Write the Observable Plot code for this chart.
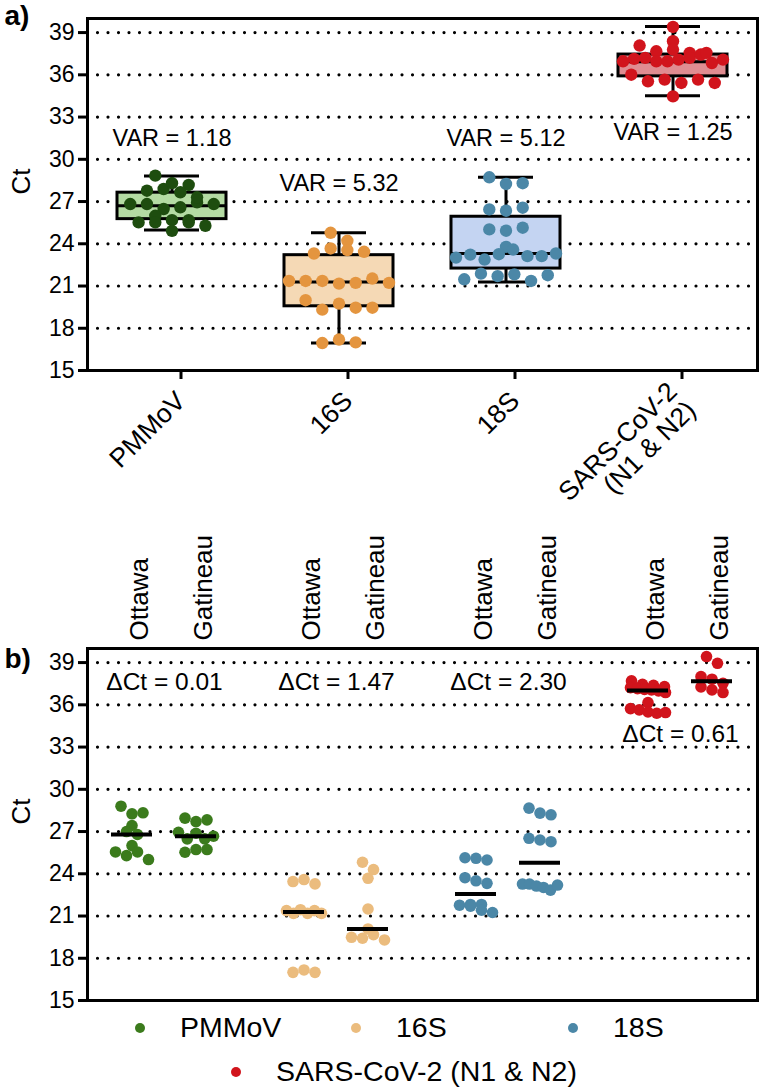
<!DOCTYPE html>
<html>
<head>
<meta charset="utf-8">
<script src="https://cdn.jsdelivr.net/npm/d3@7"></script>
<script src="https://cdn.jsdelivr.net/npm/@observablehq/plot@0.6"></script>
<style>
  html, body { margin: 0; padding: 0; background: #fff; }
  #root { position: relative; width: 760px; height: 1092px; font-family: "Liberation Sans", Arial, sans-serif; color: #000; overflow: hidden; }
  .layer { position: absolute; left: 0; }
  .layer svg { display: block; overflow: visible; }
  .lg { position: absolute; font-size: 28.5px; line-height: 1; white-space: nowrap; }
  .lg .sw { position: absolute; width: 10px; height: 10px; border-radius: 50%; }
</style>
</head>
<body>
<div id="root"></div>
<script>
// ---------- data ----------
const targets = ["PMMoV", "16S", "18S", "SARS-CoV-2 (N1 & N2)"];
const targetTickLabels = ["PMMoV", "16S", "18S", "SARS-CoV-2\n(N1 & N2)"];
const cities = ["Ottawa", "Gatineau"];
const yTicks = [15, 18, 21, 24, 27, 30, 33, 36, 39];

// panel a: all samples (Ct)
const pmmovAll = [28.84, 27.77, 27.89, 28.30, 28.18, 27.66, 26.82, 26.82, 26.47, 26.59, 26.94, 27.30, 26.82, 25.99, 25.52, 25.68, 25.52, 25.68, 24.92, 25.52, 25.28];
const s16All = [24.78, 24.21, 23.31, 23.67, 23.55, 23.43, 21.36, 21.36, 21.36, 21.17, 21.22, 21.53, 21.22, 19.99, 19.32, 19.75, 19.46, 19.46, 16.95, 17.20, 17.00];
const s18All = [28.72, 28.25, 28.30, 26.44, 26.35, 26.56, 25.02, 24.93, 25.14, 23.02, 23.23, 23.78, 22.88, 23.26, 23.59, 23.12, 23.12, 23.31, 21.48, 21.88, 21.70, 21.83, 21.36, 21.77];
const sarsAll = [39.40, 38.39, 38.08, 37.67, 37.79, 37.56, 36.96, 37.13, 37.20, 36.96, 36.96, 37.08, 37.20, 37.44, 36.84, 37.08, 37.56, 36.01, 35.54, 35.66, 35.42, 35.66, 35.42, 34.47];

// panel a: box statistics (min, Q1, median, Q3, max)
const boxMin = [24.97, 16.95, 21.29, 34.52];
const boxQ1 = [25.75, 19.56, 22.24, 35.89];
const boxMedian = [26.70, 21.29, 23.31, 36.93];
const boxQ3 = [27.63, 23.19, 25.92, 37.44];
const boxMax = [28.82, 24.78, 28.72, 39.43];

const varLabels = ["VAR = 1.18", "VAR = 5.32", "VAR = 5.12", "VAR = 1.25"];
const varLabelY = [31.45, 28.3, 31.5, 31.9];

// panel b: by city
const pmmovOttawa = [28.80, 28.26, 28.33, 27.43, 27.00, 26.79, 26.00, 25.55, 25.29, 25.55, 25.01];
const pmmovGatineau = [27.95, 27.71, 27.83, 26.95, 26.48, 26.88, 26.48, 26.67, 25.53, 25.72, 25.72];
const s16Ottawa = [23.45, 23.59, 23.28, 21.38, 21.19, 21.45, 21.19, 21.38, 21.19, 17.00, 17.17, 17.00];
const s16Gatineau = [24.82, 24.30, 23.68, 21.50, 20.08, 19.49, 19.42, 19.68, 19.30];
const s18Ottawa = [25.14, 25.10, 24.98, 23.72, 23.50, 23.32, 21.82, 21.77, 21.82, 21.70, 21.41, 21.25];
const s18Gatineau = [28.66, 28.31, 28.19, 26.52, 26.40, 26.28, 23.27, 23.27, 23.13, 23.03, 22.84, 23.20];
const sarsOttawa = [37.70, 37.46, 37.39, 37.29, 37.22, 37.15, 37.10, 37.06, 36.99, 36.87, 36.16, 35.73, 35.64, 35.49, 35.40, 35.45];
const sarsGatineau = [39.43, 38.95, 38.00, 37.82, 37.53, 37.27, 37.06, 36.87];

const dctLabels = ["\u0394Ct = 0.01", "\u0394Ct = 1.47", "\u0394Ct = 2.30", "\u0394Ct = 0.61"];
const dctLabelY = [37.6, 37.6, 37.6, 33.9];

// colours
const dotColorsA = ["#1e4d0f", "#e4953f", "#4b87a7", "#d1141c"];
const boxFills = ["#b4dba3", "#f5d9b5", "#c4d4f2", "#e08c91"];
const dotColorsB = ["#3b7b1c", "#ebbc7e", "#4b87a7", "#d1141c"];

// ---------- tables ----------
const allA = [pmmovAll, s16All, s18All, sarsAll];
const byCityB = [[pmmovOttawa, pmmovGatineau], [s16Ottawa, s16Gatineau], [s18Ottawa, s18Gatineau], [sarsOttawa, sarsGatineau]];
const statsA = targets.map((t, i) => ({target: t, min: boxMin[i], q1: boxQ1[i], median: boxMedian[i], q3: boxQ3[i], max: boxMax[i]}));
const varTable = targets.map((t, i) => ({target: t, y: varLabelY[i], label: varLabels[i]}));
const dctTable = targets.map((t, i) => ({target: t, y: dctLabelY[i], label: dctLabels[i]}));
const pointsB = targets.flatMap((t, i) => cities.flatMap((c, j) => byCityB[i][j].map(ct => ({target: t, city: c, ct}))));

// ---------- scatter layout: GraphPad-like rows centred on an x band ----------
// Points whose pixel y fall within rowH of a row's first point share a row and are
// spread evenly (spacing, squeezed to fit maxW). Plot adds half the band width to
// an "x" channel when rendering, so the layout is made around the band start.
function scatterRows(options, {key, rowH, spacing, maxW, maxPerRow}) {
  return Plot.initializer(options, (data, facets, channels, scales) => {
    const Y = Array.from(channels.y.value, v => scales.y(v));
    const cx = scales.x(key);
    const X = new Float64Array(Y.length);
    for (const I of facets) {
      const order = Array.from(I).sort((a, b) => Y[b] - Y[a] || a - b);
      const rows = [];
      let row = null;
      for (const i of order) {
        if (row && Math.abs(Y[i] - Y[row[0]]) < rowH && row.length < maxPerRow) row.push(i);
        else rows.push(row = [i]);
      }
      for (const rw of rows) {
        rw.sort((a, b) => a - b);
        const n = rw.length;
        const s = n > 1 ? Math.min(spacing, maxW / (n - 1)) : 0;
        rw.forEach((i, k) => { X[i] = cx + (k - (n - 1) / 2) * s; });
      }
    }
    return {data, facets, channels: {x: {value: X}}};
  });
}

// ---------- layout ----------
const FONT = '"Liberation Sans", Arial, sans-serif';
const W = 760, ML = 87, MR = 3;
const HA = 520, MTA = 18, MBA = HA - 370;
const TOPB = 520, HB = 483, MTB = 128, MBB = 3;
const gridStyle = {stroke: "#000", strokeOpacity: 1, strokeWidth: 3.2, strokeDasharray: "0 10.5", strokeLinecap: "round"};
const root = document.getElementById("root");

function addLayer(svg, top) {
  const d = document.createElement("div");
  d.className = "layer";
  d.style.top = top + "px";
  d.appendChild(svg);
  root.appendChild(d);
}

function background(height, mt, mb, tag, tagDy) {
  return Plot.plot({
    width: W, height, marginLeft: ML, marginRight: MR, marginTop: mt, marginBottom: mb,
    style: {fontFamily: FONT, fontSize: "22px", background: "transparent", color: "#000", overflow: "visible"},
    y: {domain: [15, 40]},
    marks: [
      Plot.gridY(yTicks, gridStyle),
      Plot.axisY(yTicks, {tickSize: 9, tickPadding: 4, strokeWidth: 3, fontSize: 23, label: null}),
      Plot.frame({stroke: "#000", strokeWidth: 3}),
      Plot.text(["Ct"], {frameAnchor: "left", dx: -66, rotate: -90, fontSize: 26}),
      Plot.text([tag], {frameAnchor: "top-left", dx: -83, dy: tagDy, fontSize: 28, fontWeight: "bold"})
    ]
  });
}

// ---------- panel a ----------
addLayer(background(HA, MTA, MBA, "a)", -13), 0);

const boxX = () => "box";
const marksA = [];
targets.forEach((t, i) => {
  const st = statsA.filter(d => d.target === t);
  marksA.push(
    Plot.barY(st, {fx: "target", x: boxX, y1: "q1", y2: "q3", fill: boxFills[i], stroke: "#000", strokeWidth: 3}),
    Plot.ruleX(st, {fx: "target", x: boxX, y1: "min", y2: "q1", stroke: "#000", strokeWidth: 3}),
    Plot.ruleX(st, {fx: "target", x: boxX, y1: "q3", y2: "max", stroke: "#000", strokeWidth: 3}),
    Plot.tickY(st, {fx: "target", x: boxX, y: "median", stroke: "#000", strokeWidth: 3}),
    Plot.tickY(st, {fx: "target", x: boxX, y: "min", stroke: "#000", strokeWidth: 3, insetLeft: 27, insetRight: 27}),
    Plot.tickY(st, {fx: "target", x: boxX, y: "max", stroke: "#000", strokeWidth: 3, insetLeft: 27, insetRight: 27}),
    Plot.dot(allA[i].map(ct => ({target: t, ct})),
      scatterRows({fx: "target", y: "ct", r: 6.2, fill: dotColorsA[i]}, {key: "box", rowH: 10, spacing: 16.7, maxW: 100, maxPerRow: 11}))
  );
});
marksA.push(
  Plot.text(varTable, {fx: "target", y: "y", text: "label", fontSize: 23.5}),
  Plot.axisFx({anchor: "bottom", tickRotate: -45, tickSize: 9, tickPadding: 17, dx: 9, strokeWidth: 3, fontSize: 26.5,
    tickFormat: t => targetTickLabels[targets.indexOf(t)], label: null})
);

addLayer(Plot.plot({
  width: W, height: HA, marginLeft: ML, marginRight: MR, marginTop: MTA, marginBottom: MBA,
  style: {fontFamily: FONT, fontSize: "22px", background: "transparent", color: "#000", overflow: "visible"},
  fx: {domain: targets, padding: 0},
  x: {domain: ["box"], padding: 0.207, axis: null},
  y: {domain: [15, 40], axis: null},
  marks: marksA
}), 0);

// ---------- panel b ----------
addLayer(background(HB, MTB, MBB, "b)", 0), TOPB);

const marksB = [
  Plot.axisX({anchor: "top", tickRotate: -90, tickSize: 0, tickPadding: 8, fontSize: 26, dx: 8, label: null})
];
targets.forEach((t, i) => {
  cities.forEach(c => {
    marksB.push(Plot.dot(pointsB.filter(d => d.target === t && d.city === c),
      scatterRows({fx: "target", y: "ct", r: 5.8, fill: dotColorsB[i]}, {key: c, rowH: 8, spacing: 11, maxW: 35, maxPerRow: 6})));
  });
});
marksB.push(
  Plot.tickY(pointsB, Plot.groupX({y: "median"}, {fx: "target", x: "city", y: "ct", stroke: "#000", strokeWidth: 4})),
  Plot.text(dctTable, {fx: "target", y: "y", text: "label", fontSize: 24.5})
);

addLayer(Plot.plot({
  width: W, height: HB, marginLeft: ML, marginRight: MR, marginTop: MTB, marginBottom: MBB,
  style: {fontFamily: FONT, fontSize: "22px", background: "transparent", color: "#000", overflow: "visible"},
  fx: {domain: targets, paddingInner: 0.116, paddingOuter: 0, axis: null},
  x: {domain: cities, paddingInner: 0.354, paddingOuter: 0.35},
  y: {domain: [15, 40], axis: null},
  marks: marksB
}), TOPB);

// ---------- legend ----------
const legendPos = [[140, 1028], [356, 1028], [573, 1028], [236, 1072]];
targets.forEach((t, i) => {
  const item = document.createElement("div");
  item.className = "lg";
  item.style.left = (legendPos[i][0] + 40) + "px";
  item.style.top = (legendPos[i][1] - 15) + "px";
  item.textContent = t;
  const sw = document.createElement("span");
  sw.className = "sw";
  sw.style.background = dotColorsB[i];
  sw.style.left = "-45px";
  sw.style.top = "10px";
  item.appendChild(sw);
  root.appendChild(item);
});
</script>
</body>
</html>
